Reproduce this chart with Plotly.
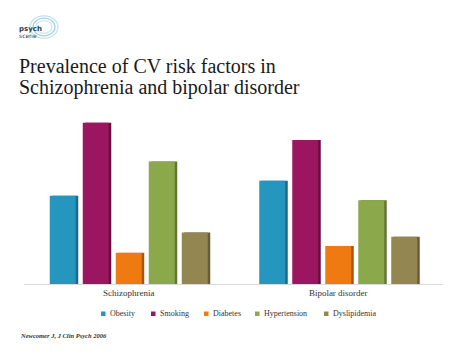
import plotly.graph_objects as go

categories = ["Schizophrenia", "Bipolar disorder"]
series_names = ["Obesity", "Smoking", "Diabetes", "Hypertension", "Dyslipidemia"]
obesity = [41, 48]
smoking = [75, 67]
diabetes = [14.5, 17.7]
hypertension = [57, 39]
dyslipidemia = [24, 22]
values = [obesity, smoking, diabetes, hypertension, dyslipidemia]

colors = ["#2596BE", "#9B1660", "#F07A12", "#8BA84B", "#948650"]
shadows = ["#1A6A88", "#640E3F", "#A8550C", "#637735", "#675E37"]

W, H = 474, 355
ml, mr, mt, mb = 24, 31, 112, 71
plot_w = W - ml - mr
ph = H - mt - mb
cat_px = plot_w / len(categories)
bar_px, pitch_px, shadow_px = 26, 33, 2.5
bw = bar_px / cat_px
pitch = pitch_px / cat_px
start = -(pitch * 4 + bw) / 2


def py(y):
    return (H - mb - y) / ph


def px(x):
    return (x - ml) / plot_w


fig = go.Figure()
for i, (name, vals) in enumerate(zip(series_names, values)):
    off = start + i * pitch
    fig.add_trace(go.Bar(x=categories, y=vals, width=bw, offset=off + shadow_px / cat_px,
                         marker=dict(color=shadows[i], line=dict(width=0)),
                         showlegend=False, hoverinfo="skip"))
    fig.add_trace(go.Bar(x=categories, y=vals, width=bw, offset=off, name=name,
                         marker=dict(color=colors[i], line=dict(width=0)),
                         showlegend=False))

serif = "Liberation Serif, DejaVu Serif, serif"

# manual legend
legend_x = [101, 151, 204, 255, 324]
shapes = []
annotations = []
for i, name in enumerate(series_names):
    x0 = legend_x[i]
    shapes.append(dict(type="rect", xref="paper", yref="paper",
                       x0=px(x0), x1=px(x0 + 4.5),
                       y0=py(316), y1=py(311.5),
                       fillcolor=colors[i], line=dict(width=0)))
    annotations.append(dict(text=name, xref="paper", yref="paper",
                            x=px(x0 + 6.5), y=py(313.5),
                            xanchor="left", yanchor="middle", showarrow=False,
                            font=dict(family=serif, size=8, color="#333333")))

annotations += [
    dict(text="Prevalence of CV risk factors in",
         xref="paper", yref="paper", x=px(17), y=py(66), xanchor="left", yanchor="middle",
         showarrow=False, font=dict(family=serif, size=20, color="#1a1a1a")),
    dict(text="Schizophrenia and bipolar disorder",
         xref="paper", yref="paper", x=px(17), y=py(87), xanchor="left", yanchor="middle",
         showarrow=False, font=dict(family=serif, size=20, color="#1a1a1a")),
    dict(text="<b><i>Newcomer J, J Clin Psych 2006</i></b>", xref="paper", yref="paper",
         x=px(18), y=py(335), xanchor="left", yanchor="middle", showarrow=False,
         font=dict(family=serif, size=6.5, color="#333333")),
    dict(text="<b>psych</b>", xref="paper", yref="paper", x=px(17), y=py(29),
         xanchor="left", yanchor="middle", showarrow=False,
         font=dict(family="DejaVu Sans", size=7, color="#2b3a4a")),
    dict(text="scene", xref="paper", yref="paper", x=px(17), y=py(35.5),
         xanchor="left", yanchor="middle", showarrow=False,
         font=dict(family="DejaVu Sans", size=6, color="#2b3a4a")),
]

# logo swirl
for r, c in [(14, "#bfe3ef"), (11, "#9fd3e6"), (8, "#c9e8f2")]:
    shapes.append(dict(type="circle", xref="paper", yref="paper",
                       x0=px(44 - r), x1=px(44 + r), y0=py(27 + r * 0.8), y1=py(27 - r * 0.8),
                       line=dict(color=c, width=1.2)))

fig.update_layout(
    width=W, height=H, margin=dict(l=ml, r=mr, t=mt, b=mb),
    barmode="overlay", plot_bgcolor="white", paper_bgcolor="white",
    xaxis=dict(showgrid=False, showline=True, linecolor="#d9d9d9", linewidth=1,
               ticks="", tickfont=dict(family=serif, size=9, color="#333333")),
    yaxis=dict(range=[0, 80], visible=False, showgrid=False, zeroline=False),
    shapes=shapes, annotations=annotations, showlegend=False,
)

fig.write_html("out.html", post_script="document.body.style.margin='0';",
               config={"displayModeBar": False})
